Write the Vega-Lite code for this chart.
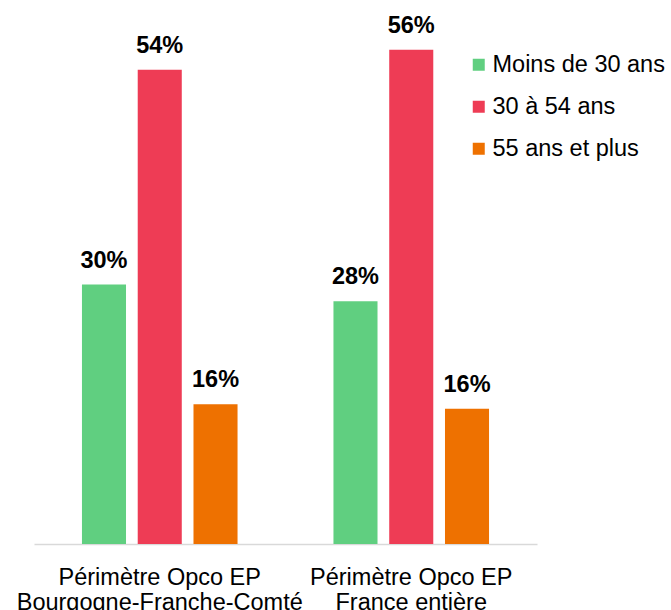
{
  "$schema": "https://vega.github.io/schema/vega-lite/v6.json",
  "width": 503,
  "height": 524,
  "autosize": "none",
  "padding": {"left": 34, "top": 20, "right": 134, "bottom": 66},
  "background": "white",
  "config": {
    "view": {"stroke": null},
    "font": "Liberation Sans"
  },
  "data": {
    "values": [
      {"g": "Périmètre Opco EP\nBourgogne-Franche-Comté", "c": "Moins de 30 ans", "v": 29.7, "label": "30%"},
      {"g": "Périmètre Opco EP\nBourgogne-Franche-Comté", "c": "30 à 54 ans", "v": 54.3, "label": "54%"},
      {"g": "Périmètre Opco EP\nBourgogne-Franche-Comté", "c": "55 ans et plus", "v": 16.0, "label": "16%"},
      {"g": "Périmètre Opco EP\nFrance entière", "c": "Moins de 30 ans", "v": 27.8, "label": "28%"},
      {"g": "Périmètre Opco EP\nFrance entière", "c": "30 à 54 ans", "v": 56.6, "label": "56%"},
      {"g": "Périmètre Opco EP\nFrance entière", "c": "55 ans et plus", "v": 15.5, "label": "16%"}
    ]
  },
  "encoding": {
    "x": {
      "field": "g",
      "type": "nominal",
      "sort": null,
      "scale": {"paddingInner": 0, "paddingOuter": 0},
      "axis": {
        "title": null,
        "labelAngle": 0,
        "labelExpr": "split(datum.label, '\\n')",
        "labelFontSize": 23.5,
        "labelColor": "#000000",
        "labelLineHeight": 25.6,
        "labelPadding": 21,
        "labelLimit": 0,
        "labelOverlap": false,
        "ticks": false,
        "tickSize": 0,
        "domainColor": "#d9d9d9",
        "domainWidth": 1.5,
        "grid": false
      }
    },
    "xOffset": {
      "field": "c",
      "type": "nominal",
      "sort": ["Moins de 30 ans", "30 à 54 ans", "55 ans et plus"],
      "scale": {"paddingInner": 0.21, "paddingOuter": 0.86}
    },
    "y": {
      "field": "v",
      "type": "quantitative",
      "scale": {"domain": [0, 60], "nice": false, "zero": true},
      "axis": null
    }
  },
  "layer": [
    {
      "mark": {"type": "bar"},
      "encoding": {
        "color": {
          "field": "c",
          "type": "nominal",
          "sort": ["Moins de 30 ans", "30 à 54 ans", "55 ans et plus"],
          "scale": {
            "domain": ["Moins de 30 ans", "30 à 54 ans", "55 ans et plus"],
            "range": ["#60CF80", "#EE3C55", "#EE7100"]
          },
          "legend": {
            "orient": "none",
            "legendX": 433,
            "legendY": 33,
            "title": null,
            "symbolType": "square",
            "symbolSize": 144,
            "symbolStrokeWidth": 0,
            "labelFontSize": 23.5,
            "labelColor": "#000000",
            "labelOffset": 2,
            "labelLimit": 0,
            "rowPadding": 17,
            "padding": 0
          }
        }
      }
    },
    {
      "mark": {
        "type": "text",
        "baseline": "alphabetic",
        "dy": -17,
        "fontSize": 23.5,
        "fontWeight": "bold",
        "color": "#000000"
      },
      "encoding": {
        "text": {"field": "label", "type": "nominal"}
      }
    }
  ]
}
